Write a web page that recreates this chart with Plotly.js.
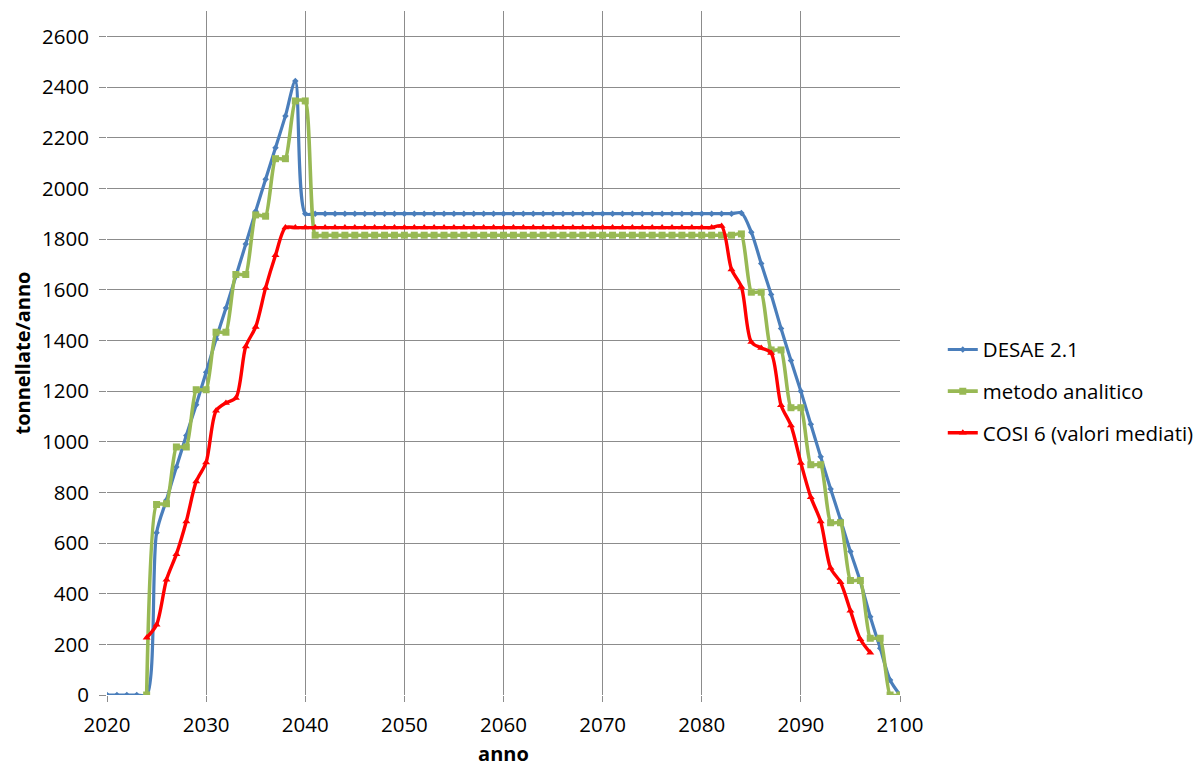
<!DOCTYPE html>
<html>
<head>
<meta charset="utf-8">
<script src="https://cdn.plot.ly/plotly-3.0.1.min.js"></script>
<style>
html,body{margin:0;padding:0;background:#fff;}
#chart{width:1201px;height:767px;}
</style>
</head>
<body>
<div id="chart"></div>
<script>
var years = [2020,2021,2022,2023,2024,2025,2026,2027,2028,2029,
  2030,2031,2032,2033,2034,2035,2036,2037,2038,2039,
  2040,2041,2042,2043,2044,2045,2046,2047,2048,2049,
  2050,2051,2052,2053,2054,2055,2056,2057,2058,2059,
  2060,2061,2062,2063,2064,2065,2066,2067,2068,2069,
  2070,2071,2072,2073,2074,2075,2076,2077,2078,2079,
  2080,2081,2082,2083,2084,2085,2086,2087,2088,2089,
  2090,2091,2092,2093,2094,2095,2096,2097,2098,2099,
  2100];

var desae = [0,0,0,0,0,640,770,900,1024,1146,
  1274,1405,1528,1653,1780,1910,2036,2160,2286,2424,
  1900,1900,1900,1900,1900,1900,1900,1900,1900,1900,
  1900,1900,1900,1900,1900,1900,1900,1900,1900,1900,
  1900,1900,1900,1900,1900,1900,1900,1900,1900,1900,
  1900,1900,1900,1900,1900,1900,1900,1900,1900,1900,
  1900,1900,1900,1900,1903,1827,1703,1581,1447,1320,
  1199,1069,940,813,692,566,448,309,185,59,
  0];

var analitico = [null,null,null,null,0,752,755,979,979,1205,
  1205,1432,1432,1660,1660,1895,1890,2117,2117,2345,
  2345,1815,1815,1815,1815,1815,1815,1815,1815,1815,
  1815,1815,1815,1815,1815,1815,1815,1815,1815,1815,
  1815,1815,1815,1815,1815,1815,1815,1815,1815,1815,
  1815,1815,1815,1815,1815,1815,1815,1815,1815,1815,
  1815,1815,1815,1815,1820,1590,1590,1362,1362,1134,
  1134,909,909,680,680,452,452,224,224,0,
  0];

var cosi = [null,null,null,null,226,277,455,556,685,843,
  918,1122,1153,1172,1376,1453,1607,1736,1845,1845,
  1845,1845,1845,1845,1845,1845,1845,1845,1845,1845,
  1845,1845,1845,1845,1845,1845,1845,1845,1845,1845,
  1845,1845,1845,1845,1845,1845,1845,1845,1845,1845,
  1845,1845,1845,1845,1845,1845,1845,1845,1845,1845,
  1845,1845,1851,1680,1611,1393,1370,1350,1144,1064,
  916,781,685,501,445,333,220,167,null,null,
  null];

var seriesNames = ["DESAE 2.1", "metodo analitico", "COSI 6 (valori mediati)"];

var FONT = "Open Sans, Liberation Sans, sans-serif";

var traces = [
  {x: years, y: desae, name: seriesNames[0], type: "scatter", mode: "lines+markers",
   legendgroup: "a",
   line: {color: "#4A7EBB", width: 3.2, shape: "spline", smoothing: 0.8},
   marker: {symbol: "diamond", size: 5, color: "#4A7EBB"}},
  {x: years, y: analitico, name: seriesNames[1], type: "scatter", mode: "lines+markers",
   legendgroup: "b",
   line: {color: "#98B954", width: 3.6, shape: "spline", smoothing: 0.5},
   marker: {symbol: "square", size: 7, color: "#98B954"}},
  {x: years, y: cosi, name: seriesNames[2], type: "scatter", mode: "lines+markers",
   legendgroup: "c",
   line: {color: "#FF0000", width: 3.4, shape: "spline", smoothing: 0.8},
   marker: {symbol: "triangle-up", size: 7, color: "#FF0000"}}
];

var layout = {
  width: 1201, height: 767,
  margin: {l: 107, r: 301, t: 11, b: 72},
  paper_bgcolor: "#ffffff", plot_bgcolor: "#ffffff",
  font: {family: FONT, size: 20.5, color: "#000"},
  showlegend: true,
  legend: {xref: "container", yref: "container", x: 0.785, xanchor: "left",
    y: 0.49, yanchor: "middle",
    font: {family: FONT, size: 20.5, color: "#000"},
    traceorder: "grouped", tracegroupgap: 12, bgcolor: "rgba(0,0,0,0)"},
  xaxis: {range: [2020, 2100], dtick: 10, tick0: 2020, showgrid: true,
    gridcolor: "#8C8C8C", gridwidth: 1, zeroline: false, showline: false,
    ticks: "outside", ticklen: 6, tickcolor: "#8C8C8C", ticklabelstandoff: 5,
    tickfont: {family: FONT, size: 20.5},
    title: {text: "<b>anno</b>", font: {family: FONT, size: 20}, standoff: 15}},
  yaxis: {range: [0, 2700], dtick: 200, tick0: 0, showgrid: true,
    gridcolor: "#8C8C8C", gridwidth: 1, zeroline: false, showline: false,
    ticks: "outside", ticklen: 7, tickcolor: "#8C8C8C", ticklabelstandoff: 6,
    tickfont: {family: FONT, size: 20.5},
    title: {text: "<b>tonnellate/anno</b>", font: {family: FONT, size: 20}, standoff: 6}}
};

Plotly.newPlot("chart", traces, layout, {displayModeBar: false, staticPlot: true});
</script>
</body>
</html>
